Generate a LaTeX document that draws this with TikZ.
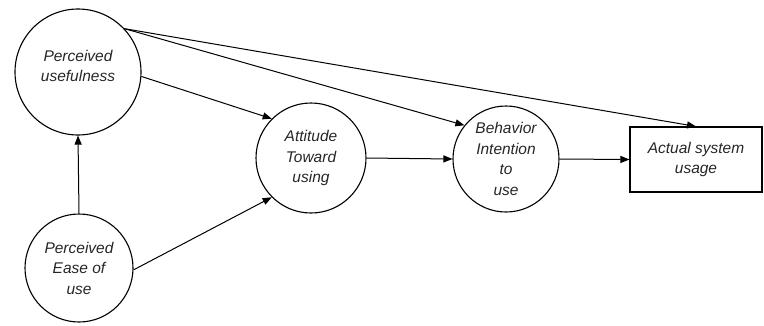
\documentclass[tikz,border=0pt]{standalone}
\usepackage{fontspec}
\setmainfont{Liberation Sans}
\usetikzlibrary{arrows.meta}
\begin{document}
\begin{tikzpicture}[x=1pt,y=-1pt,
  every node/.style={font=\fontsize{15.5}{20.5}\selectfont\itshape, align=center, text=black!85},
  circ/.style={draw, circle, line width=1.1pt, inner sep=0pt},
  boxnode/.style={draw, rectangle, line width=1.1pt, minimum width=132pt, minimum height=65pt, inner sep=0pt},
  conn/.style={line width=1pt, -{Triangle[length=9pt,width=7pt]}}]
\useasboundingbox (0,0) rectangle (764,325);
\node[circ, minimum size=126pt] (pu) at (78,72) {};
\node (putext) at (78,66) {Perceived\\usefulness};
\node[circ, minimum size=108pt] (peu) at (79,268) {Perceived\\Ease of\\use};
\node[circ, minimum size=110pt] (att) at (311,158) {Attitude\\Toward\\using};
\node[circ, minimum size=106pt] (bi) at (506,159) {Behavior\\Intention\\to\\use};
\node[boxnode] (asu) at (696,159.5) {Actual system\\usage};
\draw[conn] (peu.north) -- (pu.south);
\draw[conn] (pu.-4) -- (att.135);
\draw[conn] (peu.-2) -- (att.225);
\draw[conn] (pu.43) -- (bi.141);
\draw[conn] (pu.43) -- (asu.north);
\draw[conn] (att.east) -- (bi.west);
\draw[conn] (bi.east) -- (asu.west);
\end{tikzpicture}
\end{document}
